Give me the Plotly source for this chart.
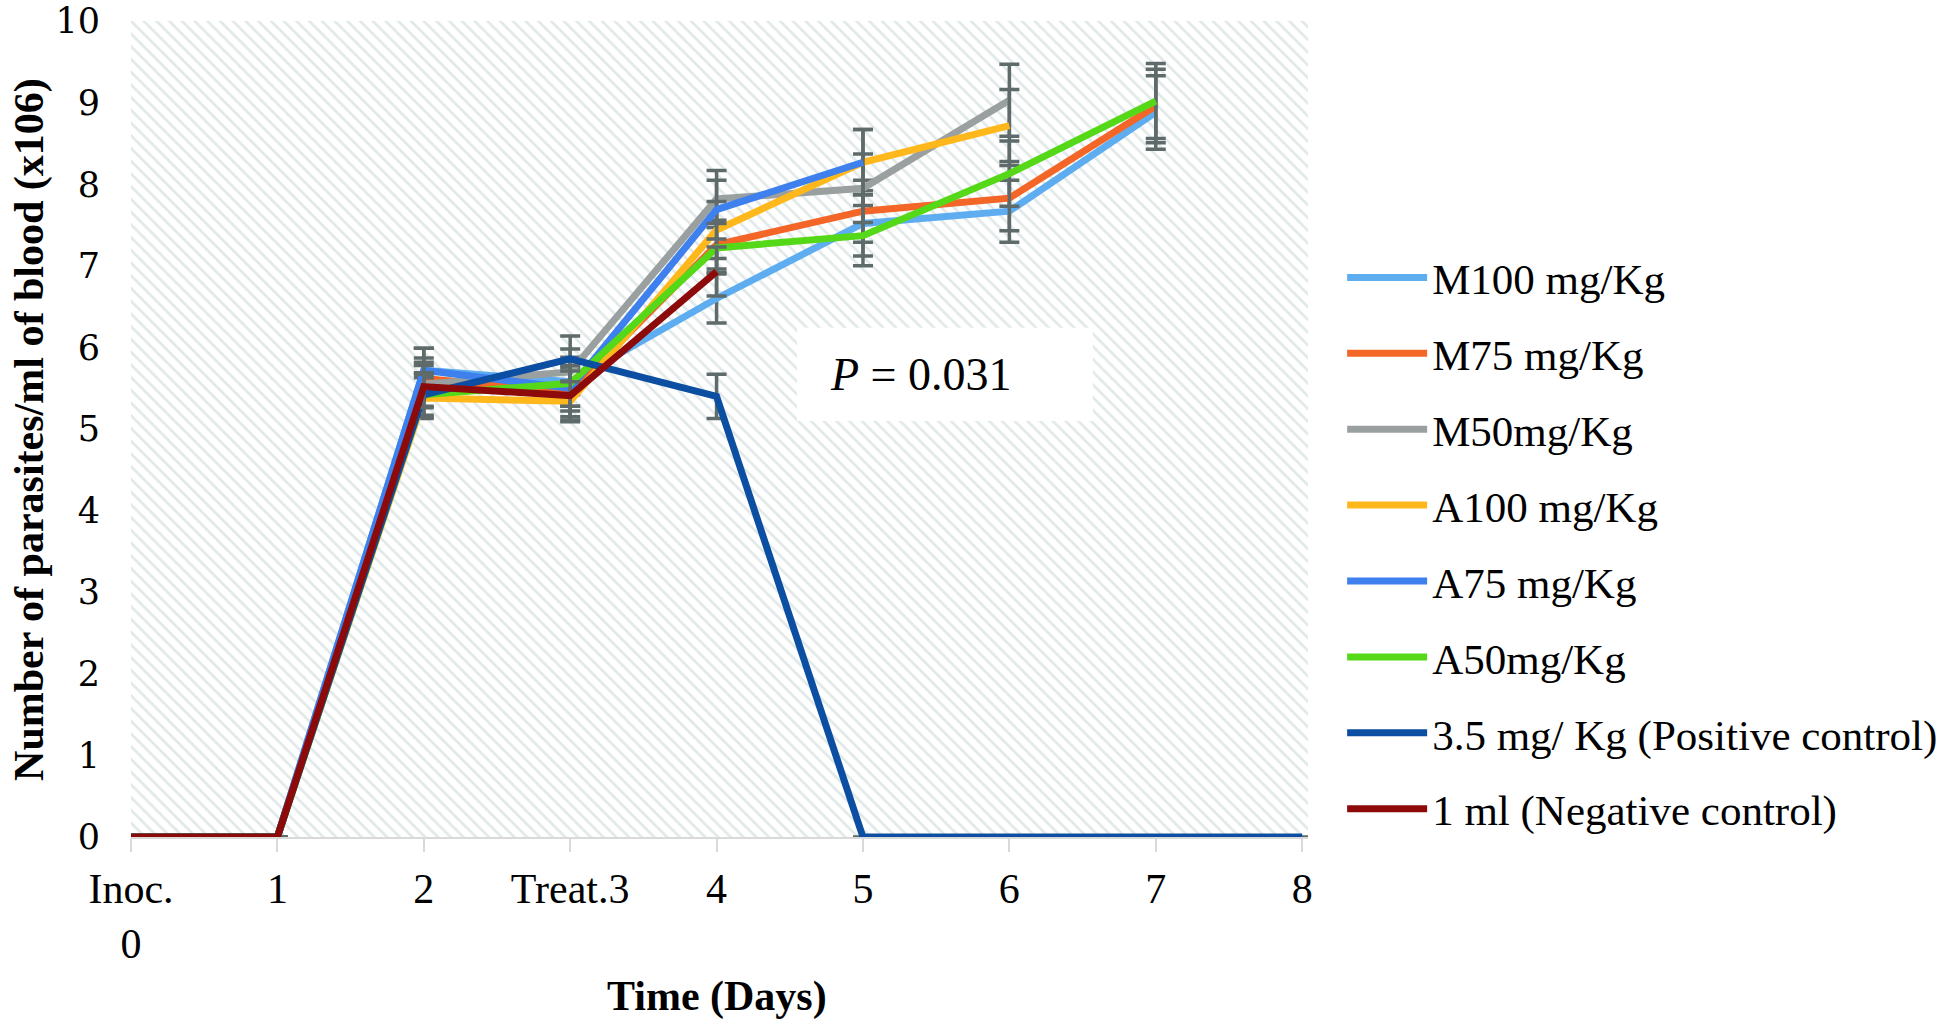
import plotly.graph_objects as go

days = [0, 1, 2, 3, 4, 5, 6, 7, 8]
day_labels = ["Inoc.<br>0", "1", "2", "Treat.3", "4", "5", "6", "7", "8"]
y_ticks = [0, 1, 2, 3, 4, 5, 6, 7, 8, 9, 10]

series_names = ["M100 mg/Kg", "M75 mg/Kg", "M50mg/Kg", "A100 mg/Kg", "A75 mg/Kg",
                "A50mg/Kg", "3.5 mg/ Kg (Positive control)", "1 ml (Negative control)"]

m100 = [0, 0, 5.72, 5.58, 6.60, 7.52, 7.67, 8.88, None]
m75 = [0, 0, 5.62, 5.45, 7.26, 7.67, 7.83, 8.96, None]
m50 = [0, 0, 5.55, 5.70, 7.82, 7.95, 9.03, None, None]
a100 = [0, 0, 5.38, 5.34, 7.44, 8.27, 8.72, None, None]
a75 = [0, 0, 5.72, 5.50, 7.69, 8.27, None, None, None]
a50 = [0, 0, 5.42, 5.56, 7.22, 7.37, 8.13, 9.02, None]
positive = [0, 0, 5.42, 5.86, 5.40, 0, 0, 0, 0]
negative = [0, 0, 5.52, 5.41, 6.93, None, None, None, None]

err_m100 = [0, 0, 0.27, 0.30, 0.30, 0.40, 0.38, 0.45, None]
err_m75 = [0, 0, 0.25, 0.30, 0.30, 0.38, 0.40, 0.45, None]
err_m50 = [0, 0, 0.27, 0.28, 0.35, 0.42, 0.44, None, None]
err_a100 = [0, 0, 0.25, 0.25, 0.35, 0.40, 0.44, None, None]
err_a75 = [0, 0, 0.27, 0.28, 0.36, 0.40, None, None, None]
err_a50 = [0, 0, 0.27, 0.28, 0.30, 0.37, 0.40, 0.46, None]
err_pos = [0, 0, 0.25, 0.28, 0.27, 0, 0, 0, 0]
err_neg = [0, 0, 0.26, 0.30, 0.30, None, None, None, None]

colors = ["#5DADF0", "#F46528", "#9AA0A0", "#FFB81C", "#3D80EE", "#55D818", "#0B4EA2", "#8C0A0A"]

values = [m100, m75, m50, a100, a75, a50, positive, negative]
errors = [err_m100, err_m75, err_m50, err_a100, err_a75, err_a50, err_pos, err_neg]

x_range = [0, 8.04]
y_range = [0, 10.001]

fig = go.Figure()

# hatched plot-area background
fig.add_trace(go.Scatter(
    x=[x_range[0], x_range[1], x_range[1], x_range[0], x_range[0]],
    y=[y_range[0], y_range[0], y_range[1], y_range[1], y_range[0]],
    mode="lines", line=dict(width=0), fill="toself",
    fillcolor="rgba(0,0,0,0)",
    fillpattern=dict(shape="\\", fgcolor="#c3d2d2", bgcolor="white", size=9, solidity=0.3),
    showlegend=False, hoverinfo="skip"))

for i, (name, vals, errs, col) in enumerate(zip(series_names, values, errors, colors)):
    fig.add_trace(go.Scatter(
        x=days, y=vals, name=name, mode="lines",
        line=dict(color=col, width=7),
        error_y=dict(type="data", array=errs, visible=True, color="#5F6B6B", thickness=3.5, width=10),
        legendgroup=f"g{i}", connectgaps=False))

# P value box
fig.add_shape(type="rect", xref="x", yref="y", x0=4.55, x1=6.57, y0=5.10, y1=6.24,
              fillcolor="white", line=dict(width=0), layer="above")
fig.add_annotation(x=5.395, y=5.67, xref="x", yref="y", showarrow=False,
                   text="<i>P</i> = 0.031",
                   font=dict(family="Liberation Serif", size=46, color="black"))

# axis titles
fig.add_annotation(x=-0.0867, y=0.5, xref="paper", yref="paper", showarrow=False,
                   xanchor="center", yanchor="middle", textangle=-90,
                   text="<b>Number of parasites/ml of blood (x106)</b>",
                   font=dict(family="Liberation Serif", size=42, color="black"))
fig.add_annotation(x=0.4975, y=-0.1955, xref="paper", yref="paper", showarrow=False,
                   xanchor="center", yanchor="middle",
                   text="<b>Time (Days)</b>",
                   font=dict(family="Liberation Serif", size=42, color="black"))

fig.update_layout(
    width=1946, height=1025,
    margin=dict(l=131, r=638, t=21, b=188, autoexpand=False),
    paper_bgcolor="white", plot_bgcolor="white",
    font=dict(family="Liberation Serif", color="black"),
    showlegend=True,
    legend=dict(x=1.029, y=0.728, xanchor="left", yanchor="top",
                font=dict(family="Liberation Serif", size=43, color="black"),
                tracegroupgap=17, itemwidth=80, bgcolor="rgba(0,0,0,0)"),
    xaxis=dict(range=x_range, tickmode="array", tickvals=days, ticktext=day_labels,
               automargin=False,
               showgrid=False, zeroline=False, showline=True, linecolor="#d9d9d9", linewidth=2,
               ticks="outside", ticklen=13, tickcolor="#d9d9d9", tickwidth=2,
               ticklabelstandoff=1,
               tickfont=dict(family="Liberation Serif", size=42, color="black")),
    yaxis=dict(range=y_range, tickmode="array", tickvals=y_ticks, automargin=False,
               showgrid=False, zeroline=False, showline=False, ticks="",
               ticklabelstandoff=30, ticklabeloverflow="allow",
               tickfont=dict(family="DejaVu Serif", size=35, color="black")),
)

fig.write_html("out.html", config={"displayModeBar": False},
               post_script="document.body.style.margin='0';document.body.style.overflow='hidden';")
